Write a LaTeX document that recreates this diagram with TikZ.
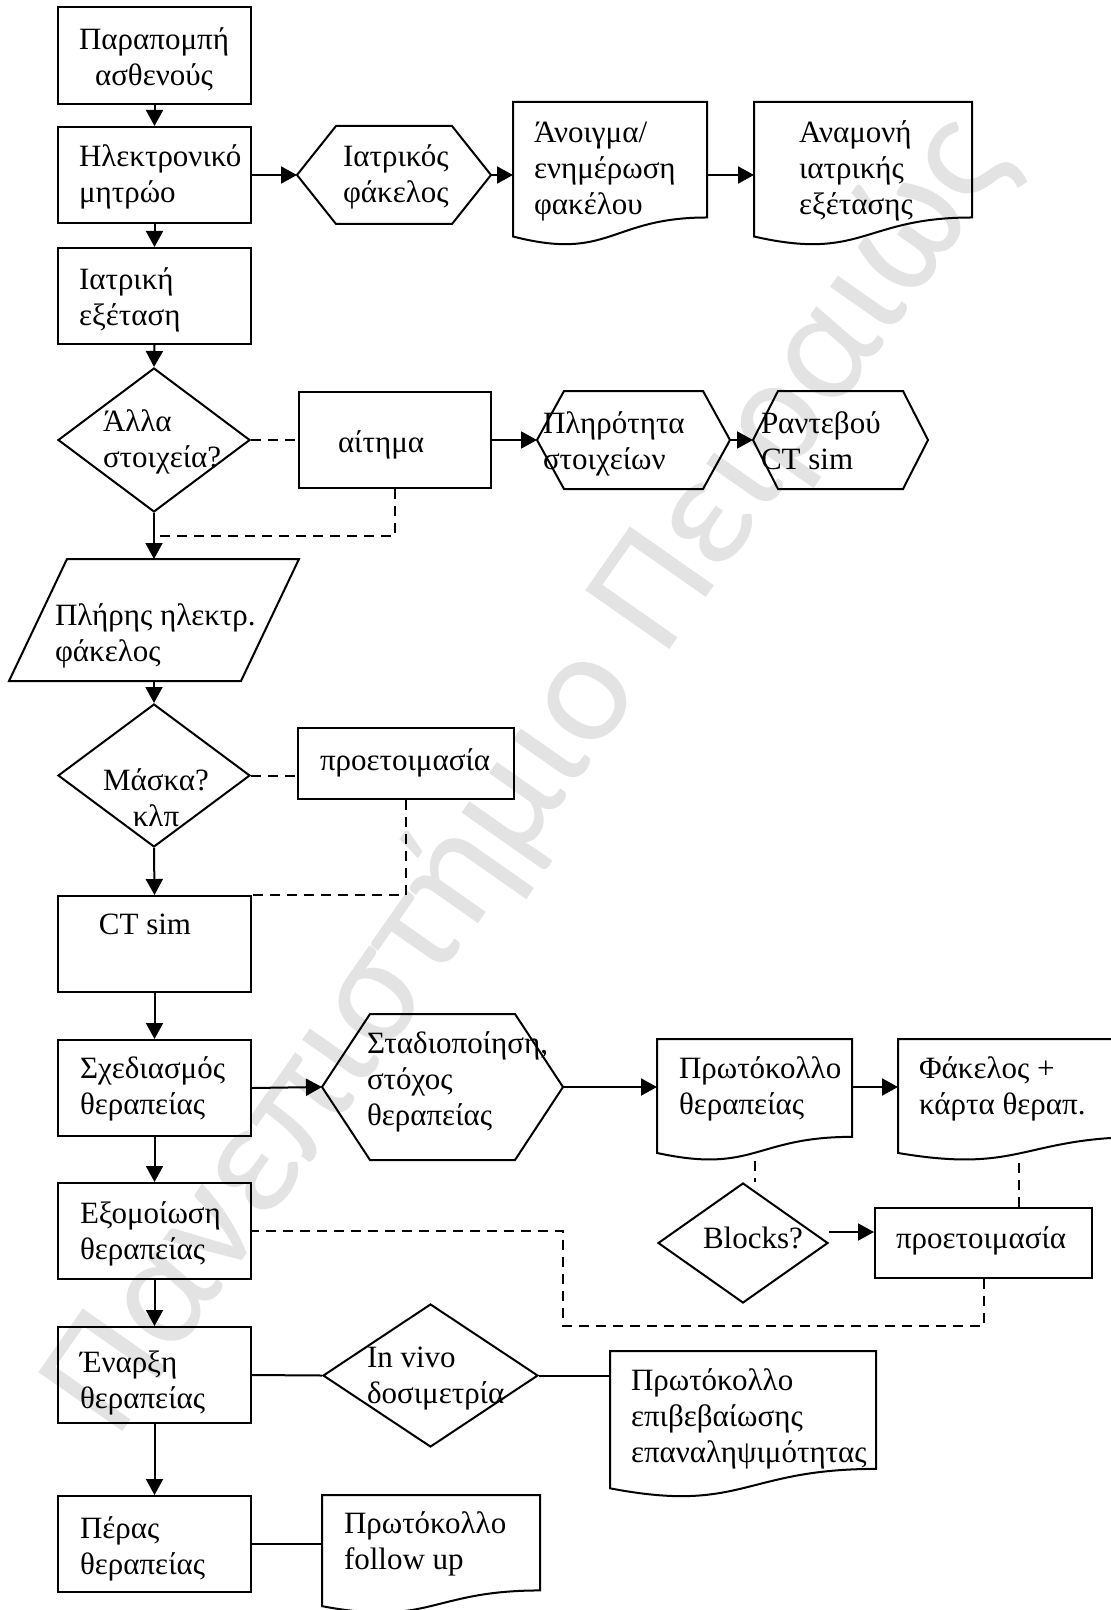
\documentclass[tikz,border=0pt]{standalone}
\usepackage{fontspec}
\setmainfont{Liberation Serif}
\newfontfamily\wmfont{Carlito}
\usetikzlibrary{shapes.geometric, arrows.meta, calc}

% multi-line labels whose baseline is that of the first line
\newcommand\ml[1]{\begin{tabular}[t]{@{}l@{}}#1\end{tabular}}
\newcommand\mc[1]{\begin{tabular}[t]{@{}c@{}}#1\end{tabular}}

% outline of a flat hexagon around a node; #2 = corner inset in px
\newcommand\drawhex[2]{%
  \draw (#1.west) -- ([xshift=#2*0.5pt]#1.north west) -- ([xshift=-#2*0.5pt]#1.north east)
    -- (#1.east) -- ([xshift=-#2*0.5pt]#1.south east) -- ([xshift=#2*0.5pt]#1.south west) -- cycle;}

% outline of a flowchart "document" (wavy bottom edge) around a node
\newcommand\drawdoc[1]{%
  \draw (#1.north west) -- (#1.north east) -- ($(#1.north east)!0.802!(#1.south east)$)
    .. controls ($(#1.north)!0.802!(#1.south)$) and ($(#1.north)!1.1076!(#1.south)$) ..
    ($(#1.north west)!0.934!(#1.south west)$) -- cycle;}

\begin{document}
\begin{tikzpicture}[x=0.5pt, y=-0.5pt, line width=1pt,
  arr/.style={-{Triangle[length=8pt,width=8.5pt]}},
  dashln/.style={dash pattern=on 5pt off 3.5pt},
  shp/.style 2 args={inner sep=0pt, minimum width=#1*0.5pt, minimum height=#2*0.5pt},
  box/.style={draw, rectangle},
  dia/.style={draw, diamond},
  txt/.style={inner sep=0pt, font=\fontsize{15.5}{18}\selectfont},
  wm/.style={inner sep=0pt, text=black!11, rotate=55, font=\wmfont\fontsize{80}{80}\selectfont}]

\useasboundingbox (0,0) rectangle (1110,1610);

% watermark
\node[wm] (wmark) at (529,775) {Πανεπιστήμιο Πειραιώς};

% ---- main column
\node[box, shp={193}{97}] (b1) at (154.5,55.5) {};
\node[box, shp={193}{96}] (b2) at (154.5,175) {};
\node[box, shp={193}{96}] (b3) at (154.5,296) {};
\node[dia, shp={192}{144}] (d1) at (154,440) {};
\node[shp={288}{120}] (p1) at (154,620) {};
\draw ([xshift=29pt]p1.north west) -- (p1.north east) -- ([xshift=-29pt]p1.south east) -- (p1.south west) -- cycle;
\node[dia, shp={192}{143}] (d2) at (154,775.5) {};
\node[box, shp={193}{96}] (ct) at (154.5,944) {};
\node[box, shp={193}{96}] (b5) at (154.5,1088) {};
\node[box, shp={193}{96}] (b6) at (154.5,1231) {};
\node[box, shp={193}{96}] (b7) at (154.5,1375) {};
\node[box, shp={193}{96}] (b8) at (154.5,1544) {};

% ---- side branches
\node[shp={192}{96}] (hex1) at (394,175) {};   \drawhex{hex1}{39}
\node[shp={192}{142}] (doc1) at (610,174) {};  \drawdoc{doc1}
\node[shp={216}{142}] (doc2) at (863,174) {};  \drawdoc{doc2}
\node[box, shp={192}{96}] (ait) at (395,440) {};
\node[shp={191}{96}] (hex2) at (633.5,440) {}; \drawhex{hex2}{27}
\node[shp={173}{96}] (hex3) at (840.5,440) {}; \drawhex{hex3}{25}
\node[box, shp={216}{71}] (pr1) at (406,763.5) {};
\node[shp={239}{144}] (hex4) at (442.5,1087) {}; \drawhex{hex4}{48}
\node[shp={193}{120}] (doc3) at (754.5,1100) {}; \drawdoc{doc3}
\node[shp={246}{120}] (doc4) at (1022,1100) {};  \drawdoc{doc4}
\node[dia, shp={170}{120}] (d3) at (743,1243) {};
\node[box, shp={217}{70}] (pr2) at (983.5,1243) {};
\node[dia, shp={215}{143}] (d4) at (430.5,1375.5) {};
\node[shp={264}{145}] (doc5) at (743,1424.5) {}; \drawdoc{doc5}
\node[shp={216}{117}] (doc6) at (431,1554.5) {}; \drawdoc{doc6}

% ---- labels
\node[txt, anchor=base] (b1t) at (154,50) {\mc{Παραπομπή\\ασθενούς}};
\node[txt, anchor=base west] (b2t) at (78,167) {\ml{Ηλεκτρονικό\\μητρώο}};
\node[txt, anchor=base west] (hex1t) at (342,167) {\ml{Ιατρικός\\φάκελος}};
\node[txt, anchor=base west] (doc1t) at (533,143) {\ml{Άνοιγμα/\\ενημέρωση\\φακέλου}};
\node[txt, anchor=base west] (doc2t) at (798,143) {\ml{Αναμονή\\ιατρικής\\εξέτασης}};
\node[txt, anchor=base west] (b3t) at (78,290) {\ml{Ιατρική\\εξέταση}};
\node[txt, anchor=base west] (d1t) at (102,431) {\ml{Άλλα\\στοιχεία?}};
\node[txt, anchor=base west] (aitt) at (337,452) {αίτημα};
\node[txt, anchor=base west] (hex2t) at (542,433) {\ml{Πληρότητα\\στοιχείων}};
\node[txt, anchor=base west] (hex3t) at (760,433) {\ml{Ραντεβού\\CT sim}};
\node[txt, anchor=base west] (p1t) at (54,625) {\ml{Πλήρης ηλεκτρ.\\φάκελος}};
\node[txt, anchor=base] (d2t) at (156,790) {\mc{Μάσκα?\\κλπ}};
\node[txt, anchor=base west] (pr1t) at (319,770) {προετοιμασία};
\node[txt, anchor=base] (ctt) at (145,934) {CT sim};
\node[txt, anchor=base west] (b5t) at (79,1078) {\ml{Σχεδιασμός\\θεραπείας}};
\node[txt, anchor=base west] (hex4t) at (366,1053) {\ml{Σταδιοποίηση,\\στόχος\\θεραπείας}};
\node[txt, anchor=base west] (doc3t) at (678,1078) {\ml{Πρωτόκολλο\\θεραπείας}};
\node[txt, anchor=base west] (doc4t) at (918,1078) {\ml{Φάκελος +\\κάρτα θεραπ.}};
\node[txt, anchor=base west] (d3t) at (702,1248) {Blocks?};
\node[txt, anchor=base west] (pr2t) at (895,1248) {προετοιμασία};
\node[txt, anchor=base west] (b6t) at (79,1223) {\ml{Εξομοίωση\\θεραπείας}};
\node[txt, anchor=base west] (b7t) at (79,1372) {\ml{Έναρξη\\θεραπείας}};
\node[txt, anchor=base west] (d4t) at (366,1367) {\ml{In vivo\\δοσιμετρία}};
\node[txt, anchor=base west] (doc5t) at (630,1390) {\ml{Πρωτόκολλο\\επιβεβαίωσης\\επαναληψιμότητας}};
\node[txt, anchor=base west] (b8t) at (79,1538) {\ml{Πέρας\\θεραπείας}};
\node[txt, anchor=base west] (doc6t) at (343,1533) {\ml{Πρωτόκολλο\\follow up}};

% ---- connectors
\draw[arr] (b1.south) -- (b2.north);
\draw[arr] (b2.east) -- (hex1.west);
\draw[arr] (hex1.east) -- (hex1.east -| doc1.west);
\draw[arr] (doc1.east |- hex1.east) -- (doc2.west |- hex1.east);
\draw[arr] (b2.south) -- (b3.north);
\draw[arr] (b3.south) -- (d1.north);
\draw[dashln] (d1.east) -- (ait.west);
\draw[arr] (ait.east) -- (hex2.west);
\draw[arr] (hex2.east) -- (hex3.west);
\draw[arr] (d1.south) -- (d1.south |- p1.north);
\draw[dashln] (ait.south) |- ($(d1.south)!0.5!(d1.south |- p1.north)$);
\draw[arr] (d2.north |- p1.south) -- (d2.north);
\draw[dashln] (d2.east) -- (d2.east -| pr1.west);
\draw[arr] (d2.south) -- (ct.north);
\draw[dashln] (pr1.south) |- (ct.north east);
\draw[arr] (ct.south) -- (b5.north);
\draw[arr] (b5.east) -- (hex4.west);
\draw[arr] (hex4.east) -- (hex4.east -| doc3.west);
\draw[arr] (doc3.east |- hex4.east) -- (doc4.west |- hex4.east);
\draw[dashln] (doc3.south) -- (doc3.south |- d3.north);
\draw[arr] ([yshift=5.5pt]d3.east) -- ([yshift=5.5pt]d3.east -| pr2.west);
\draw[dashln] ($(pr2.north west)!0.66!(pr2.north east)$) coordinate (q) -- (q |- doc4.south);
\draw[dashln] (pr2.south) |- (hex4.east |- b7.north) |- (b6.east);
\draw[arr] (b5.south) -- (b6.north);
\draw[arr] (b6.south) -- (b7.north);
\draw (b7.east) -- (d4.west);
\draw (d4.east) -- (d4.east -| doc5.west);
\draw[arr] (b7.south) -- (b8.north);
\draw (b8.east) -- (b8.east -| doc6.west);
\end{tikzpicture}
\end{document}
